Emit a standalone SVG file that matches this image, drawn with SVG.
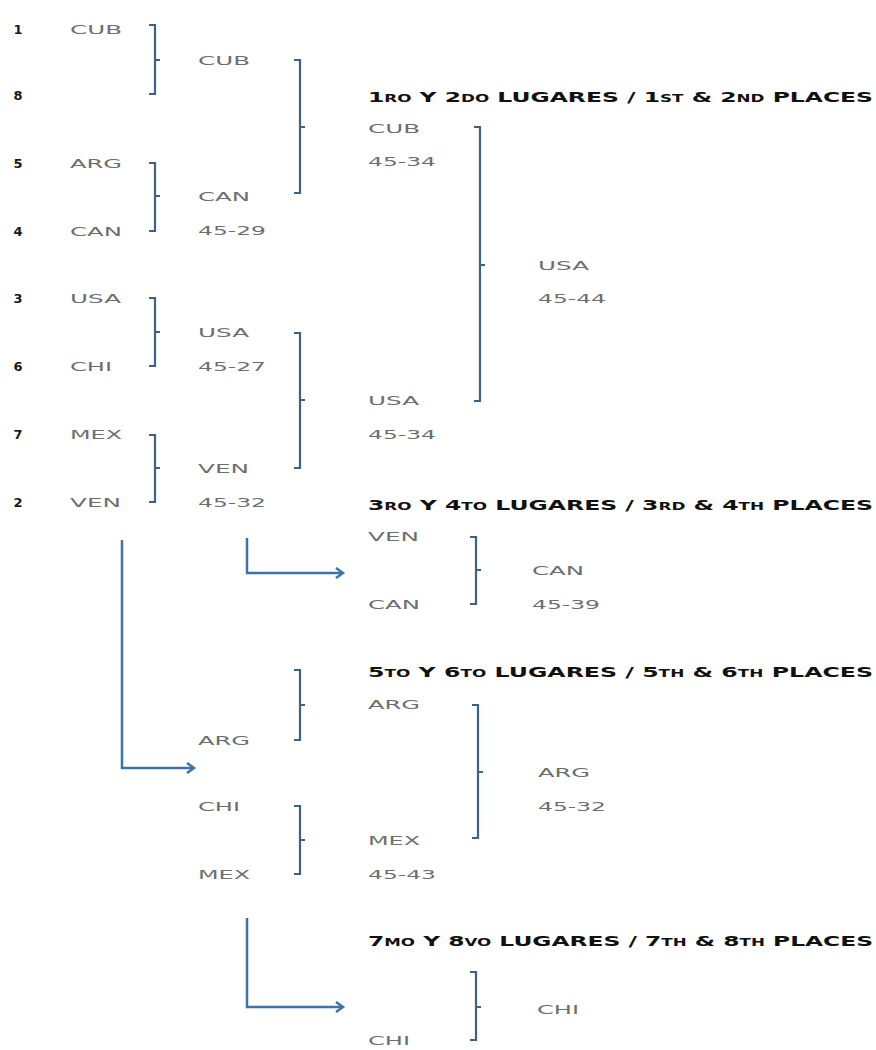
<svg xmlns="http://www.w3.org/2000/svg" width="876" height="1050" viewBox="0 0 876 1050">
<style>
.seed{font-family:"DejaVu Sans",sans-serif;font-weight:bold;font-size:13px;fill:#1a1a1a;text-anchor:middle}
.t{font-family:"DejaVu Sans",sans-serif;font-size:13px;fill:#6e6e6e}
.h{font-family:"DejaVu Sans",sans-serif;font-weight:bold;font-size:14px;fill:#111}
.h .s{font-size:10px}
.br{fill:none;stroke:#3d6286;stroke-width:2.2}
.ar{fill:none;stroke:#3f73a6;stroke-width:2.5}
</style>
<defs>
<marker id="ah" markerWidth="12" markerHeight="12" refX="9" refY="6" orient="auto" markerUnits="userSpaceOnUse">
<path d="M2,1 L9,6 L2,11" fill="none" stroke="#3f73a6" stroke-width="2.5"/>
</marker>
</defs>
<rect width="876" height="1050" fill="#fff"/>

<g id="seeds">
<text class="seed" x="18" y="34">1</text>
<text class="seed" x="18" y="100">8</text>
<text class="seed" x="18" y="168">5</text>
<text class="seed" x="18" y="236">4</text>
<text class="seed" x="18" y="303">3</text>
<text class="seed" x="18" y="371">6</text>
<text class="seed" x="18" y="439">7</text>
<text class="seed" x="18" y="507">2</text>
</g>

<g id="round1">
<text class="t" x="70" y="34" textLength="52" lengthAdjust="spacingAndGlyphs">CUB</text>
<text class="t" x="70" y="168" textLength="52" lengthAdjust="spacingAndGlyphs">ARG</text>
<text class="t" x="70" y="236" textLength="52" lengthAdjust="spacingAndGlyphs">CAN</text>
<text class="t" x="70" y="303" textLength="51" lengthAdjust="spacingAndGlyphs">USA</text>
<text class="t" x="70" y="371" textLength="42" lengthAdjust="spacingAndGlyphs">CHI</text>
<text class="t" x="70" y="439" textLength="52" lengthAdjust="spacingAndGlyphs">MEX</text>
<text class="t" x="70" y="507" textLength="51" lengthAdjust="spacingAndGlyphs">VEN</text>
</g>

<g id="round2">
<text class="t" x="198" y="65" textLength="52" lengthAdjust="spacingAndGlyphs">CUB</text>
<text class="t" x="198" y="201" textLength="52" lengthAdjust="spacingAndGlyphs">CAN</text>
<text class="t" x="198" y="235" textLength="68" lengthAdjust="spacingAndGlyphs">45-29</text>
<text class="t" x="198" y="337" textLength="51" lengthAdjust="spacingAndGlyphs">USA</text>
<text class="t" x="198" y="371" textLength="68" lengthAdjust="spacingAndGlyphs">45-27</text>
<text class="t" x="198" y="473" textLength="51" lengthAdjust="spacingAndGlyphs">VEN</text>
<text class="t" x="198" y="507" textLength="68" lengthAdjust="spacingAndGlyphs">45-32</text>
</g>

<g id="final12">
<text class="h" x="368" y="102" textLength="505" lengthAdjust="spacingAndGlyphs">1<tspan class="s">RO</tspan> Y 2<tspan class="s">DO</tspan> LUGARES / 1<tspan class="s">ST</tspan> &amp; 2<tspan class="s">ND</tspan> PLACES</text>
<text class="t" x="368" y="133" textLength="52" lengthAdjust="spacingAndGlyphs">CUB</text>
<text class="t" x="368" y="166" textLength="68" lengthAdjust="spacingAndGlyphs">45-34</text>
<text class="t" x="368" y="405" textLength="51" lengthAdjust="spacingAndGlyphs">USA</text>
<text class="t" x="368" y="439" textLength="68" lengthAdjust="spacingAndGlyphs">45-34</text>
<text class="t" x="538" y="270" textLength="51" lengthAdjust="spacingAndGlyphs">USA</text>
<text class="t" x="538" y="303" textLength="68" lengthAdjust="spacingAndGlyphs">45-44</text>
</g>

<g id="final34">
<text class="h" x="368" y="510" textLength="505" lengthAdjust="spacingAndGlyphs">3<tspan class="s">RO</tspan> Y 4<tspan class="s">TO</tspan> LUGARES / 3<tspan class="s">RD</tspan> &amp; 4<tspan class="s">TH</tspan> PLACES</text>
<text class="t" x="368" y="541" textLength="51" lengthAdjust="spacingAndGlyphs">VEN</text>
<text class="t" x="368" y="609" textLength="52" lengthAdjust="spacingAndGlyphs">CAN</text>
<text class="t" x="532" y="575" textLength="52" lengthAdjust="spacingAndGlyphs">CAN</text>
<text class="t" x="532" y="609" textLength="68" lengthAdjust="spacingAndGlyphs">45-39</text>
</g>

<g id="consolation">
<text class="t" x="198" y="745" textLength="52" lengthAdjust="spacingAndGlyphs">ARG</text>
<text class="t" x="198" y="811" textLength="42" lengthAdjust="spacingAndGlyphs">CHI</text>
<text class="t" x="198" y="879" textLength="52" lengthAdjust="spacingAndGlyphs">MEX</text>
</g>

<g id="final56">
<text class="h" x="368" y="677" textLength="505" lengthAdjust="spacingAndGlyphs">5<tspan class="s">TO</tspan> Y 6<tspan class="s">TO</tspan> LUGARES / 5<tspan class="s">TH</tspan> &amp; 6<tspan class="s">TH</tspan> PLACES</text>
<text class="t" x="368" y="709" textLength="52" lengthAdjust="spacingAndGlyphs">ARG</text>
<text class="t" x="368" y="845" textLength="52" lengthAdjust="spacingAndGlyphs">MEX</text>
<text class="t" x="368" y="879" textLength="68" lengthAdjust="spacingAndGlyphs">45-43</text>
<text class="t" x="538" y="777" textLength="52" lengthAdjust="spacingAndGlyphs">ARG</text>
<text class="t" x="538" y="811" textLength="68" lengthAdjust="spacingAndGlyphs">45-32</text>
</g>

<g id="final78">
<text class="h" x="368" y="946" textLength="505" lengthAdjust="spacingAndGlyphs">7<tspan class="s">MO</tspan> Y 8<tspan class="s">VO</tspan> LUGARES / 7<tspan class="s">TH</tspan> &amp; 8<tspan class="s">TH</tspan> PLACES</text>
<text class="t" x="368" y="1045" textLength="42" lengthAdjust="spacingAndGlyphs">CHI</text>
<text class="t" x="537" y="1014" textLength="42" lengthAdjust="spacingAndGlyphs">CHI</text>
</g>

<g id="connectors">
<path class="br" d="M149,25 H155 V94 H149 M155,60 H160"/>
<path class="br" d="M149,163 H155 V231 H149 M155,196 H160"/>
<path class="br" d="M149,298 H155 V366 H149 M155,332 H160"/>
<path class="br" d="M149,435 H155 V502 H149 M155,468 H160"/>
<path class="br" d="M294,60 H300 V193 H294 M300,127 H305"/>
<path class="br" d="M294,333 H300 V468 H294 M300,400 H305"/>
<path class="br" d="M474,127 H480 V401 H474 M480,265 H485"/>
<path class="br" d="M470,537 H476 V604 H470 M476,570 H481"/>
<path class="br" d="M294,670 H300 V740 H294 M300,705 H305"/>
<path class="br" d="M294,806 H300 V874 H294 M300,840 H305"/>
<path class="br" d="M472,705 H478 V838 H472 M478,772 H483"/>
<path class="br" d="M470,972 H476 V1040 H470 M476,1007 H481"/>
<path class="ar" d="M247,538 V573 H343" marker-end="url(#ah)"/>
<path class="ar" d="M122,540 V768 H194" marker-end="url(#ah)"/>
<path class="ar" d="M247,918 V1007 H343" marker-end="url(#ah)"/>
</g>
</svg>
